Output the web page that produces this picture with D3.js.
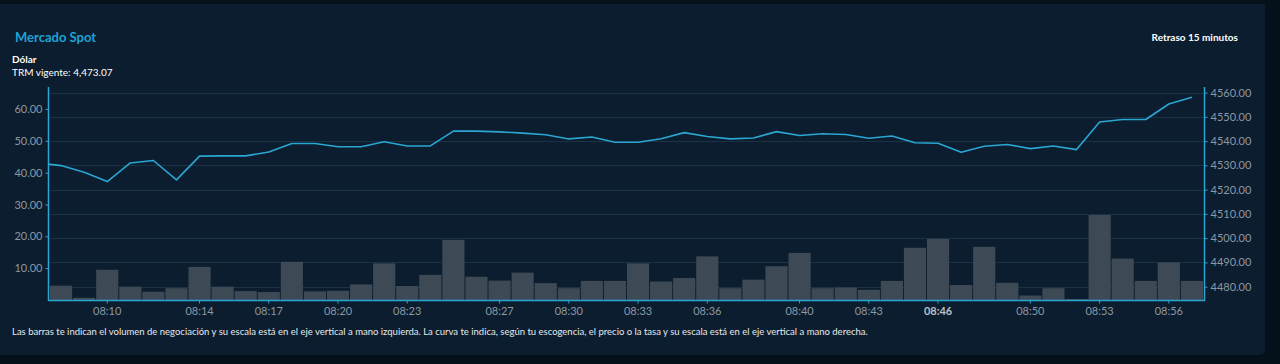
<!DOCTYPE html>
<html>
<head>
<meta charset="utf-8">
<script src="https://cdn.jsdelivr.net/npm/d3@7"></script>
<style>
  body { margin: 0; background: #04111b; font-family: Lato, "Noto Sans", sans-serif; }
  svg { display: block; }
</style>
</head>
<body>
<svg id="svg0"></svg>
<script>
// ----- data -----
let minutes = ["08:08","08:09","08:10","08:11","08:12","08:13","08:14","08:15","08:16","08:17",
    "08:18","08:19","08:20","08:21","08:22","08:23","08:24","08:25","08:26","08:27",
    "08:28","08:29","08:30","08:31","08:32","08:33","08:34","08:35","08:36","08:37",
    "08:38","08:39","08:40","08:41","08:42","08:43","08:44","08:45","08:46","08:47",
    "08:48","08:49","08:50","08:51","08:52","08:53","08:54","08:55","08:56","08:57"];

let volumes = [4.5, 0.7, 9.5, 4.2, 2.6, 3.7, 10.4, 4.2, 2.8, 2.5,
    12.0, 2.7, 2.9, 4.9, 11.5, 4.4, 7.9, 18.9, 7.3, 6.1,
    8.6, 5.3, 3.7, 6.0, 6.0, 11.5, 5.8, 6.9, 13.7, 3.7,
    6.4, 10.6, 14.8, 3.7, 3.9, 3.2, 6.0, 16.4, 19.2, 4.7,
    16.7, 5.4, 1.4, 3.7, 0.3, 26.7, 13.0, 6.0, 11.8, 6.0];

let openPrice = 4530.5;
let prices = [4529.9, 4527.2, 4523.3, 4531.0, 4532.0, 4524.0, 4533.8, 4533.9, 4533.9, 4535.5,
    4539.0, 4539.0, 4537.7, 4537.7, 4539.7, 4538.0, 4538.0, 4544.1, 4544.1, 4543.8,
    4543.3, 4542.6, 4540.9, 4541.7, 4539.5, 4539.5, 4541.0, 4543.5, 4541.9, 4540.9,
    4541.3, 4543.9, 4542.3, 4543.0, 4542.7, 4541.2, 4542.1, 4539.3, 4539.1, 4535.4,
    4537.9, 4538.6, 4536.9, 4538.0, 4536.5, 4547.9, 4548.9, 4548.9, 4555.3, 4558.1];

let xTicks = ["08:10","08:14","08:17","08:20","08:23","08:27","08:30","08:33","08:36","08:40",
    "08:43","08:46","08:50","08:53","08:56"];
let volumeTicks = [10, 20, 30, 40, 50, 60];
let priceTicks = [4480, 4490, 4500, 4510, 4520, 4530, 4540, 4550, 4560];

// ----- chart -----
let svgWidth = 1280;
let svgHeight = 364;

let svg = d3.select("#svg0")
    .attr("width", svgWidth)
    .attr("height", svgHeight);

// panel
svg.append("path")
    .attr("d", "M0,4 H1265 V349 Q1265,355 1259,355 H0 Z")
    .attr("fill", "#0b1d2e");

let plotLeft = 48, plotRight = 1204, plotTop = 87, plotBottom = 300;

let x = d3.scaleBand()
    .domain(minutes)
    .range([plotLeft + 2, plotRight - 1])
    .paddingInner(0.04)
    .paddingOuter(0);

let yVol = d3.scaleLinear()
    .domain([0, 66.9])
    .range([plotBottom, plotTop]);

let yPrice = d3.scaleLinear()
    .domain([4474.5, 4562.3])
    .range([plotBottom, plotTop]);

// gridlines
svg.append("g")
    .selectAll("line")
    .data(priceTicks)
    .enter()
    .append("line")
    .attr("x1", plotLeft)
    .attr("x2", plotRight)
    .attr("y1", d => Math.round(yPrice(d)) + 0.5)
    .attr("y2", d => Math.round(yPrice(d)) + 0.5)
    .attr("stroke", "#1a3245")
    .attr("stroke-width", 1);

// bars
svg.append("g")
    .selectAll("rect")
    .data(volumes)
    .enter()
    .append("rect")
    .attr("fill", "#3d4a55")
    .attr("x", (d, i) => x(minutes[i]))
    .attr("y", d => yVol(d))
    .attr("width", x.bandwidth())
    .attr("height", d => plotBottom - yVol(d));

// price line
let linePoints = [[plotLeft, openPrice]].concat(prices.map((p, i) => [x(minutes[i]) + x.bandwidth() / 2, p]));
let line = d3.line()
    .x(d => d[0])
    .y(d => yPrice(d[1]));

svg.append("path")
    .datum(linePoints)
    .attr("d", line)
    .attr("fill", "none")
    .attr("stroke", "#2aa6d2")
    .attr("stroke-width", 1.6)
    .attr("stroke-linejoin", "round");

// axes
let axisColor = "#2aa6d2";
let labelColor = "#8c98a3";

let axisLeft = d3.axisLeft(yVol)
    .tickValues(volumeTicks)
    .tickFormat(d3.format(".2f"))
    .tickSize(3)
    .tickSizeOuter(0);
let groupLeft = svg.append("g")
    .attr("transform", `translate(${plotLeft + 0.5}, 0)`)
    .call(axisLeft);

let axisRight = d3.axisRight(yPrice)
    .tickValues(priceTicks)
    .tickFormat(d3.format(".2f"))
    .tickSize(3)
    .tickSizeOuter(0);
let groupRight = svg.append("g")
    .attr("transform", `translate(${plotRight + 0.5}, 0)`)
    .call(axisRight);

let axisBottom = d3.axisBottom(x)
    .tickValues(xTicks)
    .tickSize(3)
    .tickSizeOuter(0);
let groupBottom = svg.append("g")
    .attr("transform", `translate(0, ${plotBottom + 0.5})`)
    .call(axisBottom);

// stretch axis lines across the whole plot
groupBottom.select(".domain").attr("d", `M${plotLeft},0H${plotRight + 1}`);
groupLeft.select(".domain").attr("d", `M0,${plotTop}V${plotBottom + 1}`);
groupRight.select(".domain").attr("d", `M0,${plotTop}V${plotBottom + 1}`);

[groupLeft, groupRight, groupBottom].forEach(g => {
    g.select(".domain").attr("stroke", axisColor).attr("stroke-width", 1.5);
    g.selectAll(".tick line").attr("stroke", axisColor);
    g.selectAll(".tick text")
        .attr("fill", labelColor)
        .style("font-family", "Lato, 'Noto Sans', sans-serif")
        .style("font-size", "11px");
});
groupLeft.selectAll(".tick text").attr("x", -6);
groupRight.selectAll(".tick text").attr("x", 6);
groupBottom.selectAll(".tick text").attr("y", 7);
groupBottom.selectAll(".tick text").filter(d => d == "08:46").attr("fill", "#b7c0c8").style("font-weight", "bold");

// header text
svg.append("text")
    .attr("x", 15)
    .attr("y", 42)
    .attr("fill", "#1ea3d6")
    .style("font-size", "13px")
    .style("font-weight", "bold")
    .text("Mercado Spot");

svg.append("text")
    .attr("x", 12)
    .attr("y", 63)
    .attr("fill", "#ffffff")
    .style("font-size", "10px")
    .style("font-weight", "bold")
    .text("Dólar");

svg.append("text")
    .attr("x", 12)
    .attr("y", 76)
    .attr("fill", "#ffffff")
    .style("font-size", "10px")
    .text("TRM vigente: 4,473.07");

svg.append("text")
    .attr("x", 1238)
    .attr("y", 41)
    .attr("text-anchor", "end")
    .attr("fill", "#ffffff")
    .style("font-size", "10px")
    .style("font-weight", "bold")
    .text("Retraso 15 minutos");

svg.append("text")
    .attr("x", 12)
    .attr("y", 335)
    .attr("fill", "#e6e9ec")
    .style("font-size", "9.5px")
    .text("Las barras te indican el volumen de negociación y su escala está en el eje vertical a mano izquierda. La curva te indica, según tu escogencia, el precio o la tasa y su escala está en el eje vertical a mano derecha.");
</script>
</body>
</html>
